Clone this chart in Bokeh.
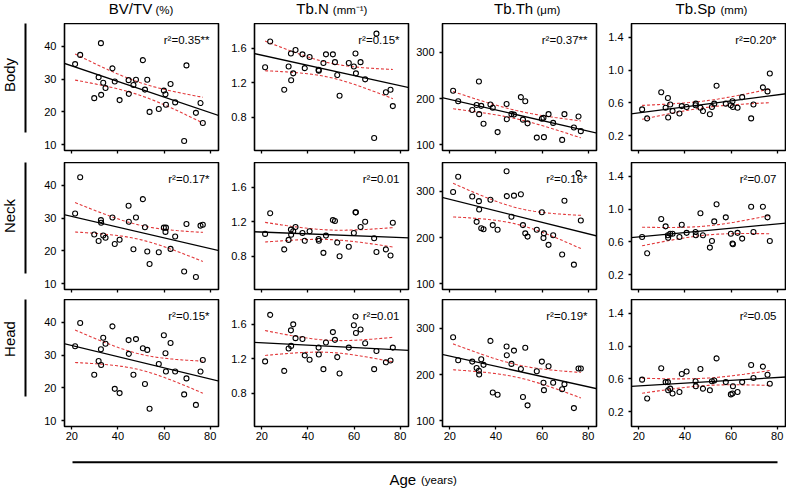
import numpy as np
from bokeh.plotting import figure
from bokeh.layouts import column, row
from bokeh.models import Range1d, FixedTicker, Label, BoxAnnotation, Slope, NumeralTickFormatter
from bokeh.embed import file_html
from bokeh.resources import INLINE

# ---------------- data ----------------
AGES = [21.4, 23.6, 29.7, 31.6, 32.6, 32.7, 33.6, 34.6, 37.6, 38.6, 40.7, 44.6, 44.7, 46.7, 47.8,
        50.8, 51.7, 52.7, 53.7, 57.7, 59.9, 60.6, 60.8, 62.8, 64.8, 68.7, 69.7, 73.8, 75.8, 76.8]

BVTV_BODY = [34.6, 37.4, 24.2, 30.6, 41.0, 25.2, 28.9, 27.3, 33.3, 29.3, 23.6, 29.7, 25.5, 28.2, 29.8,
             35.8, 26.8, 29.8, 20.0, 20.9, 26.5, 25.4, 22.2, 28.5, 22.9, 11.1, 34.2, 19.7, 22.7, 16.6]
BVTV_NECK = [31.4, 42.5, 25.0, 23.0, 29.4, 28.6, 24.7, 24.0, 30.2, 22.1, 23.4, 33.8, 28.9, 20.5, 30.2,
             35.8, 27.2, 19.8, 16.0, 19.6, 27.1, 25.8, 27.1, 20.6, 24.4, 13.7, 28.2, 12.0, 27.7, 28.0]
BVTV_HEAD = [32.7, 39.8, 24.0, 28.2, 31.8, 27.0, 35.3, 33.5, 38.8, 19.7, 18.4, 34.6, 30.4, 24.0, 34.9,
             32.1, 21.2, 31.6, 13.6, 27.3, 36.1, 30.6, 25.0, 33.7, 25.0, 18.0, 22.9, 14.8, 25.0, 28.5]

TBN_BODY = [1.38, 1.68, 1.12, 1.39, 1.54, 1.23, 1.31, 1.58, 1.53, 1.37, 1.50, 1.35, 1.34, 1.43, 1.53,
            1.53, 1.44, 1.29, 1.05, 1.43, 1.39, 1.54, 1.31, 1.44, 1.24, 0.56, 1.77, 1.09, 1.12, 0.93]
TBN_NECK = [1.06, 1.30, 0.88, 0.99, 1.11, 1.05, 1.09, 1.14, 1.07, 0.98, 1.09, 1.00, 0.98, 0.84, 1.04,
            1.22, 1.21, 0.96, 0.80, 0.91, 1.07, 1.31, 1.31, 1.14, 1.20, 1.01, 0.85, 0.88, 0.81, 1.19]
TBN_HEAD = [1.17, 1.71, 1.06, 1.32, 1.53, 1.35, 1.60, 1.44, 1.43, 1.24, 1.19, 1.33, 1.25, 1.08, 1.39,
            1.51, 1.42, 1.22, 1.03, 1.33, 1.59, 1.69, 1.50, 1.54, 1.38, 1.08, 1.29, 1.16, 1.18, 1.33]

TBTH_BODY = [217, 194, 175, 186, 237, 166, 184, 145, 187, 180, 127, 188, 155, 166, 165,
             203, 154, 194, 146, 115, 156, 158, 116, 166, 147, 110, 166, 137, 161, 129]
TBTH_NECK = [299, 332, 289, 234, 279, 261, 220, 218, 282, 227, 217, 344, 290, 245, 291,
             294, 227, 209, 202, 217, 255, 199, 209, 184, 205, 163, 280, 141, 340, 237]
TBTH_HEAD = [281, 231, 228, 214, 208, 200, 233, 221, 273, 161, 156, 261, 242, 223, 252,
             212, 151, 258, 133, 207, 228, 182, 166, 218, 182, 168, 179, 127, 213, 213]

TBSP_BODY = [0.52, 0.41, 0.73, 0.54, 0.66, 0.42, 0.58, 0.50, 0.47, 0.56, 0.55, 0.57, 0.59, 0.54, 0.50,
             0.46, 0.55, 0.59, 0.81, 0.59, 0.57, 0.62, 0.55, 0.54, 0.67, 0.41, 0.58, 0.79, 0.74, 0.96]
TBSP_NECK = [0.66, 0.46, 0.88, 0.79, 0.68, 0.65, 0.70, 0.70, 0.66, 0.81, 0.71, 0.72, 0.68, 0.95, 0.68,
             0.53, 0.61, 0.85, 1.06, 0.90, 0.70, 0.58, 0.57, 0.71, 0.64, 1.03, 0.72, 1.03, 0.90, 0.61]
TBSP_HEAD = [0.59, 0.36, 0.73, 0.56, 0.56, 0.46, 0.48, 0.42, 0.44, 0.66, 0.69, 0.57, 0.51, 0.72, 0.48,
             0.46, 0.57, 0.58, 0.85, 0.56, 0.41, 0.42, 0.51, 0.44, 0.56, 0.77, 0.61, 0.75, 0.65, 0.54]

R2_BODY = ["r²=0.35**", "r²=0.15*", "r²=0.37**", "r²=0.20*"]
R2_NECK = ["r²=0.17*", "r²=0.01", "r²=0.16*", "r²=0.07"]
R2_HEAD = ["r²=0.15*", "r²=0.01", "r²=0.19*", "r²=0.05"]

COL_TITLES = ["BV/TV", "Tb.N", "Tb.Th", "Tb.Sp"]
COL_UNITS = ["(%)", "(mm⁻¹)", "(μm)", "(mm)"]
ROW_NAMES = ["Body", "Neck", "Head"]
X_TICKS = [20, 40, 60, 80]
Y_TICKS = [[10, 20, 30, 40], [0.8, 1.2, 1.6], [100, 200, 300], [0.2, 0.6, 1.0, 1.4]]
X_LABEL = "Age"
X_UNIT = "(years)"

VALUES = [
    [BVTV_BODY, TBN_BODY, TBTH_BODY, TBSP_BODY],
    [BVTV_NECK, TBN_NECK, TBTH_NECK, TBSP_NECK],
    [BVTV_HEAD, TBN_HEAD, TBTH_HEAD, TBSP_HEAD],
]
R2 = [R2_BODY, R2_NECK, R2_HEAD]

# ---------------- layout / style ----------------
FONT = "Liberation Sans"
X_RANGE = (16.8, 83.6)
Y_RANGES = [(8.2, 47.0), (0.415, 1.888), (87.0, 363.0), (0.017, 1.571)]
Y_FORMATS = ["0", "0.0", "0", "0.0"]
FRAME_W, FRAME_H = 154, 127
LABEL_W = 32
HEAD_H = 23
LEFT_B = [32, 34, 32, 33]
RIGHT_B = [2, 2, 2, 1]
TOP_B = [0, 0, 0]
BOTTOM_B = [12, 10, 24]
TITLE_SPLIT = [(87.7, 91.0), (74.3, 78.3), (90.7, 94.0), (84.0, 89.0)]
T975 = 2.048  # t quantile, df = 28
RED = "#e2393b"


def fit_ci(x, y):
    x = np.asarray(x, float)
    y = np.asarray(y, float)
    n = len(x)
    xm, ym = x.mean(), y.mean()
    sxx = ((x - xm) ** 2).sum()
    b = ((x - xm) * (y - ym)).sum() / sxx
    a = ym - b * xm
    s = np.sqrt(((y - (a + b * x)) ** 2).sum() / (n - 2))
    xs = np.linspace(x.min(), x.max(), 80)
    se = s * np.sqrt(1.0 / n + (xs - xm) ** 2 / sxx)
    yh = a + b * xs
    return a, b, xs, yh - T975 * se, yh + T975 * se


def txt(x, y, text, size, align="left", angle=0.0):
    return Label(x=x, y=y, x_units="screen", y_units="screen", text=text, angle=angle,
                 text_align=align, text_baseline="middle", text_font=FONT,
                 text_font_size=size, text_color="black")


def bar(left, right, bottom, top):
    return BoxAnnotation(left=left, right=right, bottom=bottom, top=top,
                         left_units="screen", right_units="screen",
                         bottom_units="screen", top_units="screen",
                         fill_color="black", fill_alpha=1.0, line_color=None)


def blank(width, height):
    p = figure(width=width, height=height, x_range=Range1d(0, width), y_range=Range1d(0, height),
               x_axis_type=None, y_axis_type=None, output_backend="svg",
               toolbar_location=None, tools="", min_border=0)
    p.outline_line_color = None
    p.xgrid.visible = False
    p.ygrid.visible = False
    return p


def frame_left(c):
    return LABEL_W + sum(LEFT_B[:c + 1]) + c * FRAME_W + sum(RIGHT_B[:c])


def make_panel(r, c):
    lb, rb, tb, bb = LEFT_B[c], RIGHT_B[c], TOP_B[r], BOTTOM_B[r]
    p = figure(width=lb + FRAME_W + rb, height=tb + FRAME_H + bb,
               x_range=Range1d(*X_RANGE), y_range=Range1d(*Y_RANGES[c]),
               output_backend="svg", toolbar_location=None, tools="",
               min_border_left=lb, min_border_right=rb,
               min_border_top=tb, min_border_bottom=bb)
    p.xgrid.visible = False
    p.ygrid.visible = False
    p.outline_line_color = "black"
    p.outline_line_width = 1.6
    p.outline_line_alpha = 1.0

    for ax in (p.xaxis[0], p.yaxis[0]):
        ax.axis_line_color = None
        ax.major_tick_out = 3
        ax.major_tick_in = 0
        ax.major_tick_line_width = 1.3
        ax.minor_tick_out = 3
        ax.minor_tick_in = 0
        ax.minor_tick_line_width = 1.3
        ax.minor_tick_line_color = "black"
        ax.major_label_text_font = FONT
        ax.major_label_text_font_size = "11px"
        ax.major_label_text_color = "black"
    p.xaxis[0].major_label_standoff = 2
    p.yaxis[0].major_label_standoff = 5
    if r < 2:
        # unlabeled ticks on the upper rows
        p.xaxis[0].ticker = FixedTicker(ticks=[], minor_ticks=X_TICKS)
    else:
        p.xaxis[0].ticker = FixedTicker(ticks=X_TICKS, minor_ticks=[])
    p.yaxis[0].ticker = FixedTicker(ticks=Y_TICKS[c], minor_ticks=[])
    p.yaxis[0].formatter = NumeralTickFormatter(format=Y_FORMATS[c])

    vals = VALUES[r][c]
    a, b, xs, lo, hi = fit_ci(AGES, vals)
    p.line(xs, lo, line_color=RED, line_dash="3 2", line_width=1.1)
    p.line(xs, hi, line_color=RED, line_dash="3 2", line_width=1.1)
    p.add_layout(Slope(gradient=b, y_intercept=a, line_color="black", line_width=1.3))
    p.scatter(AGES, vals, marker="circle", size=5, fill_color=None,
              line_color="black", line_width=1.1)

    p.add_layout(txt(FRAME_W - 9, FRAME_H - 16, R2[r][c], "11.5px", align="right"))
    return p


def make_row_label(r):
    h = TOP_B[r] + FRAME_H + BOTTOM_B[r]
    p = blank(LABEL_W, h)
    fb = BOTTOM_B[r]
    p.add_layout(txt(8.7, fb + FRAME_H / 2, ROW_NAMES[r], "15px", align="center", angle=np.pi / 2))
    p.add_layout(bar(24, 26, fb + 6, fb + FRAME_H - 4.5))
    return p


TOTAL_W = LABEL_W + sum(LEFT_B) + sum(RIGHT_B) + 4 * FRAME_W

# header with column titles
header = blank(TOTAL_W, HEAD_H)
for c in range(4):
    sm, su = TITLE_SPLIT[c]
    fl = frame_left(c)
    header.add_layout(txt(fl + sm, HEAD_H - 8, COL_TITLES[c], "15px", align="right"))
    header.add_layout(txt(fl + su, HEAD_H - 9, COL_UNITS[c], "11.5px", align="left"))

rows = []
for r in range(3):
    rows.append(row(make_row_label(r), *[make_panel(r, c) for c in range(4)]))

BOT_H = 38
bottom = blank(TOTAL_W, BOT_H)
bottom.add_layout(bar(72, 777, 25.3, 27.3))
bottom.add_layout(txt(389, 9, X_LABEL, "15px", align="left"))
bottom.add_layout(txt(420.5, 8.5, X_UNIT, "11.5px", align="left"))

layout = column(header, *rows, bottom)
open("out.html", "w").write(file_html(layout, INLINE))
